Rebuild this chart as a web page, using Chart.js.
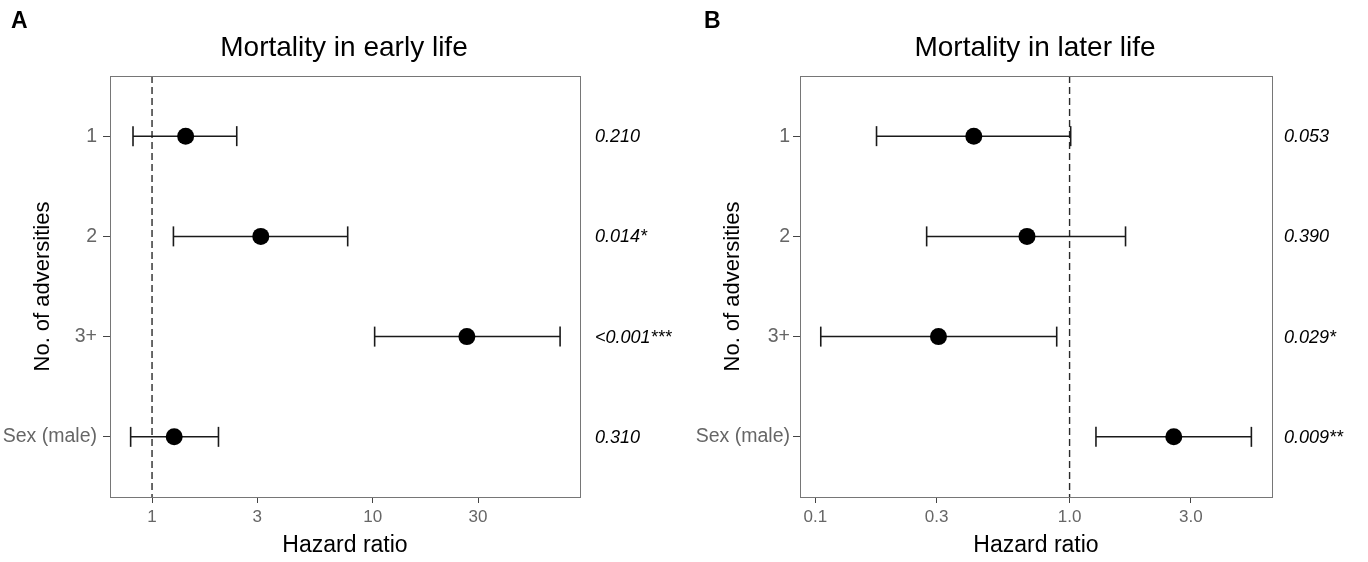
<!DOCTYPE html>
<html>
<head>
<meta charset="utf-8">
<script src="https://cdn.jsdelivr.net/npm/chart.js@4.4.1/dist/chart.umd.min.js"></script>
<style>
  html, body { margin:0; padding:0; background:#fff; }
  #wrap { position:relative; width:1368px; height:562px; overflow:hidden; }
  canvas { position:absolute; top:0; }
  #cA { left:0; }
  #cB { left:684px; }
</style>
</head>
<body>
<div id="wrap">
  <canvas id="cA" width="684" height="562"></canvas>
  <canvas id="cB" width="684" height="562"></canvas>
</div>
<script>
// ---- data ----
const categories = ['1', '2', '3+', 'Sex (male)'];

const earlyHR   = [1.42, 3.11, 26.7, 1.26];
const earlyLow  = [0.82, 1.25, 10.2, 0.80];
const earlyHigh = [2.42, 7.70, 70.6, 2.00];
const earlyP    = ['0.210', '0.014*', '<0.001***', '0.310'];

const laterHR   = [0.42, 0.68, 0.305, 2.57];
const laterLow  = [0.174, 0.274, 0.105, 1.27];
const laterHigh = [1.01, 1.66, 0.89, 5.19];
const laterP    = ['0.053', '0.390', '0.029*', '0.009**'];

const earlyTicks = [1, 3, 10, 30];
const earlyTickLabels = ['1', '3', '10', '30'];
const laterTicks = [0.1, 0.3, 1.0, 3.0];
const laterTickLabels = ['0.1', '0.3', '1.0', '3.0'];

// ---- rendering ----
const FONT = '"Liberation Sans", Arial, Helvetica, sans-serif';
Chart.defaults.font.family = FONT;

function makePanel(canvasId, cfg) {
  const n = categories.length;
  const datasets = [];
  // reference line at HR = 1
  datasets.push({
    type: 'line',
    data: [{x: 1, y: 0.4}, {x: 1, y: n + 0.6}],
    borderColor: '#2a2a2a',
    borderWidth: 1.4,
    borderDash: [7, 4],
    pointRadius: 0,
    fill: false,
    order: 3
  });
  // confidence intervals
  for (let i = 0; i < n; i++) {
    datasets.push({
      type: 'line',
      data: [{x: cfg.low[i], y: i + 1}, {x: cfg.high[i], y: i + 1}],
      borderColor: '#1a1a1a',
      borderWidth: 1.5,
      pointStyle: 'line',
      pointRotation: 90,
      pointRadius: 10,
      pointBorderWidth: 1.6,
      pointBorderColor: '#1a1a1a',
      fill: false,
      order: 2
    });
  }
  // point estimates
  datasets.push({
    type: 'scatter',
    data: cfg.hr.map((v, i) => ({x: v, y: i + 1})),
    pointRadius: 8.5,
    pointBackgroundColor: '#000',
    pointBorderColor: '#000',
    pointBorderWidth: 0,
    order: 1
  });

  const decor = {
    id: 'decor',
    afterDraw(chart) {
      const {ctx, chartArea, scales} = chart;
      ctx.save();
      // panel border
      ctx.strokeStyle = '#767676';
      ctx.lineWidth = 1;
      ctx.strokeRect(Math.round(chartArea.left) + 0.5, Math.round(chartArea.top) + 0.5,
                     Math.round(chartArea.right - chartArea.left), Math.round(chartArea.bottom - chartArea.top));
      // panel letter
      ctx.fillStyle = '#000';
      ctx.font = 'bold 23px ' + FONT;
      ctx.textAlign = 'left';
      ctx.textBaseline = 'alphabetic';
      ctx.fillText(cfg.letter, cfg.letterX, 28);
      // title
      ctx.font = '28px ' + FONT;
      ctx.textAlign = 'center';
      ctx.fillText(cfg.title, cfg.titleX, 56);
      // p-values
      ctx.font = 'italic 18px ' + FONT;
      ctx.textAlign = 'left';
      ctx.textBaseline = 'middle';
      cfg.p.forEach((t, i) => {
        ctx.fillText(t, cfg.pX, scales.y.getPixelForValue(i + 1) + 1);
      });
      ctx.restore();
    }
  };

  return new Chart(document.getElementById(canvasId), {
    data: { datasets },
    options: {
      responsive: false,
      animation: false,
      devicePixelRatio: 1,
      layout: { padding: { top: 76, right: cfg.rightPad, bottom: 0, left: 0 } },
      plugins: { legend: { display: false }, tooltip: { enabled: false }, title: { display: false } },
      scales: {
        x: {
          type: 'logarithmic',
          position: 'bottom',
          bounds: 'data',
          min: cfg.xmin,
          max: cfg.xmax,
          afterBuildTicks: (s) => { s.ticks = cfg.ticks.map(v => ({value: v})); },
          afterFit: (s) => { s.height = 65; },
          ticks: {
            autoSkip: false,
            maxRotation: 0,
            color: '#666',
            font: { size: 17 },
            padding: 4,
            callback: (v) => { const k = cfg.ticks.indexOf(v); return k >= 0 ? cfg.tickLabels[k] : ''; }
          },
          grid: { drawOnChartArea: false, drawTicks: true, tickLength: 6, color: '#444', lineWidth: 1 },
          border: { display: false },
          title: { display: true, text: 'Hazard ratio', color: '#000', font: { size: 23 }, padding: { top: 0, bottom: 3 } }
        },
        y: {
          type: 'linear',
          reverse: true,
          min: 0.4,
          max: n + 0.6,
          afterBuildTicks: (s) => { s.ticks = categories.map((c, i) => ({value: i + 1})); },
          afterFit: (s) => { s.width = cfg.yWidth; },
          ticks: {
            autoSkip: false,
            color: '#666',
            font: { size: 19.5 },
            padding: cfg.yTickPad,
            callback: (v) => categories[v - 1] || ''
          },
          grid: { drawOnChartArea: false, drawTicks: true, tickLength: 7, color: '#444', lineWidth: 1 },
          border: { display: false },
          title: { display: true, text: 'No. of adversities', color: '#000', font: { size: 22 }, padding: { top: cfg.yTitlePad, bottom: 0 } }
        }
      }
    },
    plugins: [decor]
  });
}

makePanel('cA', {
  letter: 'A', letterX: 11, title: 'Mortality in early life', titleX: 344,
  hr: earlyHR, low: earlyLow, high: earlyHigh, p: earlyP, pX: 595,
  ticks: earlyTicks, tickLabels: earlyTickLabels, xmin: 0.645, xmax: 86.9,
  rightPad: 104, yWidth: 110, yTickPad: 6, yTitlePad: 30
});

makePanel('cB', {
  letter: 'B', letterX: 20, title: 'Mortality in later life', titleX: 351,
  hr: laterHR, low: laterLow, high: laterHigh, p: laterP, pX: 600,
  ticks: laterTicks, tickLabels: laterTickLabels, xmin: 0.0870, xmax: 6.256,
  rightPad: 96, yWidth: 116, yTickPad: 3, yTitlePad: 36
});
</script>
</body>
</html>
